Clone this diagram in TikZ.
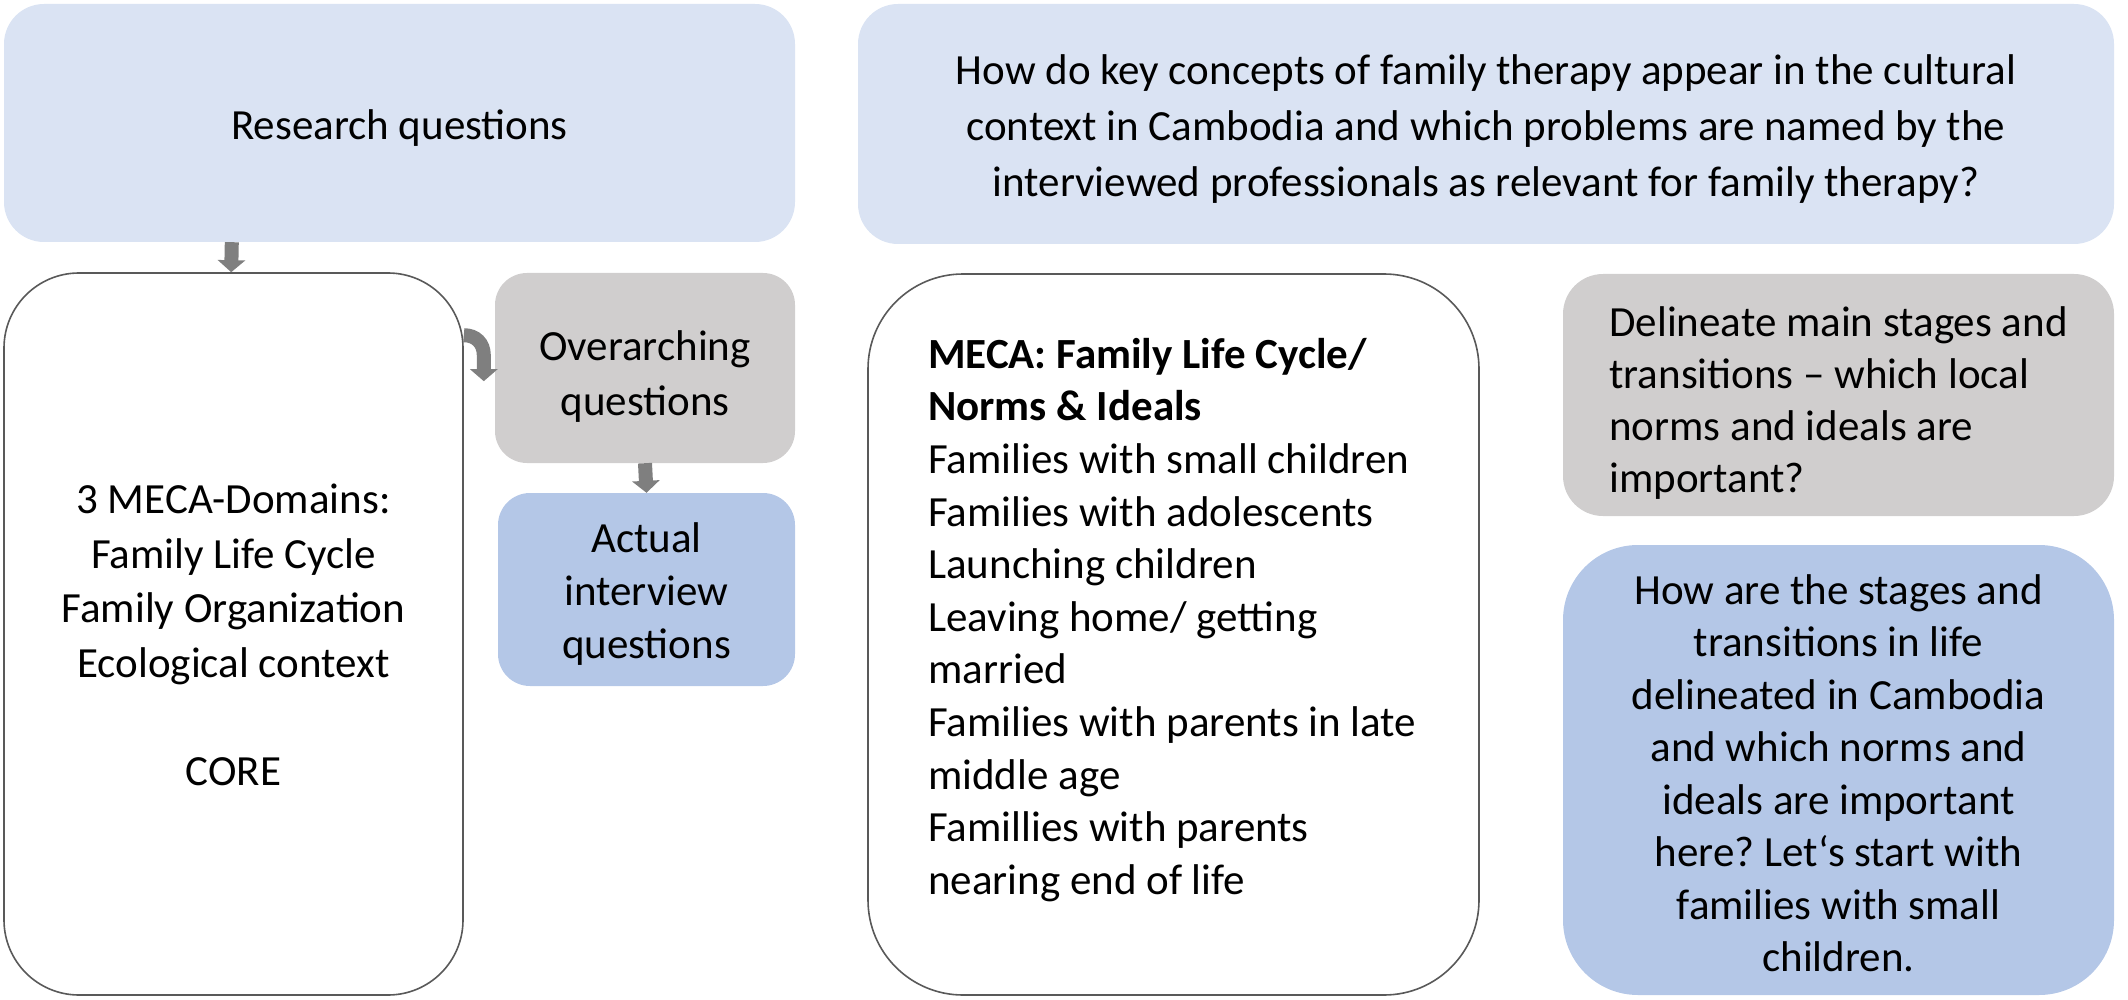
\documentclass[tikz,border=0pt]{standalone}
\usepackage{fontspec}
\setmainfont{Carlito}
\frenchspacing
\usetikzlibrary{arrows.meta,calc}
\definecolor{lblue}{HTML}{DAE3F3}
\definecolor{mblue}{HTML}{B4C7E7}
\definecolor{lgray}{HTML}{D0CECE}
\definecolor{agray}{HTML}{7F7F7F}
\definecolor{edgec}{HTML}{595959}
\begin{document}
\begin{tikzpicture}[x=1pt,y=-1pt,
  box/.style={rectangle, inner sep=0pt},
  txt/.style={inner sep=0pt, text=black, font=\fontsize{43}{53}\selectfont},
  outl/.style={box, draw=edgec, line width=1.6pt, fill=white},
  blockarrow/.style={draw=agray, line width=14pt, -{Triangle[length=12pt,width=27pt]}}
]
\useasboundingbox (0,0) rectangle (2128,1000);

% boxes
\node[box, fill=lblue, rounded corners=40pt, minimum width=791pt, minimum height=238pt] (rq) at (399.5,123) {};
\node[box, fill=lblue, rounded corners=40pt, minimum width=1256pt, minimum height=240pt] (tq) at (1486,124) {};
\node[outl, rounded corners=75pt, minimum width=459pt, minimum height=722pt] (lbox) at (233.5,634) {};
\node[box, fill=lgray, rounded corners=32pt, minimum width=300pt, minimum height=190pt] (over) at (645,368) {};
\node[box, fill=mblue, rounded corners=32pt, minimum width=297pt, minimum height=193pt] (act) at (646.5,589.5) {};
\node[outl, rounded corners=95pt, minimum width=611pt, minimum height=721pt] (mid) at (1173.5,634.5) {};
\node[box, fill=lgray, rounded corners=40pt, minimum width=551pt, minimum height=242pt] (rg) at (1838.5,395) {};
\node[box, fill=mblue, rounded corners=75pt, minimum width=551pt, minimum height=450pt] (rb) at (1838.5,770) {};

% texts
\node[txt] (rqt) at ($(rq.center)+(0,5)$) {Research questions};
\node[txt, align=center, font=\fontsize{43}{56}\selectfont] (tqt) at ($(tq.center)+(0,5)$)
  {How do key concepts of family therapy appear in the cultural\\context in Cambodia and which problems are named by the\\interviewed professionals as relevant for family therapy?};
\node[txt, align=center, font=\fontsize{43}{54.5}\selectfont] (lboxt) at ($(lbox.center)+(0,1)$)
  {3 MECA-Domains:\\Family Life Cycle\\Family Organization\\Ecological context\\[54pt]CORE};
\node[txt, align=center, font=\fontsize{43}{55}\selectfont] (overt) at ($(over.center)+(0,9)$)
  {Overarching\\questions};
\node[txt, align=center] (actt) at ($(act.center)+(0,5)$)
  {Actual\\interview\\questions};
\node[txt, align=left, anchor=west, font=\fontsize{43}{52.6}\selectfont] (midtext) at (928,620)
  {\textbf{MECA: Family Life Cycle/}\\\textbf{Norms \& Ideals}\\Families with small children\\Families with adolescents\\Launching children\\Leaving home/ getting\\married\\Families with parents in late\\middle age\\Famillies with parents\\nearing end of life};
\node[txt, align=left, font=\fontsize{43}{52}\selectfont] (rgt) at ($(rg.center)+(0,8)$)
  {Delineate main stages and\\transitions – which local\\norms and ideals are\\important?};
\node[txt, align=center, font=\fontsize{43}{52.5}\selectfont] (rbt) at ($(rb.center)+(0,3)$)
  {How are the stages and\\transitions in life\\delineated in Cambodia\\and which norms and\\ideals are important\\here? Let‘s start with\\families with small\\children.};

% connectors
\draw[blockarrow] ($(rq.south west)+(228,0)$) -- ($(lbox.north west)+(228,0)$);
\draw[blockarrow] ($(lbox.north east)+(0,63)$) .. controls ($(lbox.north east)+(12,63)$) and ($(lbox.north east)+(20,71)$) .. ($(lbox.north east)+(20,83)$) -- ($(lbox.north east)+(20,109)$);
\draw[blockarrow] (over.south) -- (act.north);
\end{tikzpicture}
\end{document}
